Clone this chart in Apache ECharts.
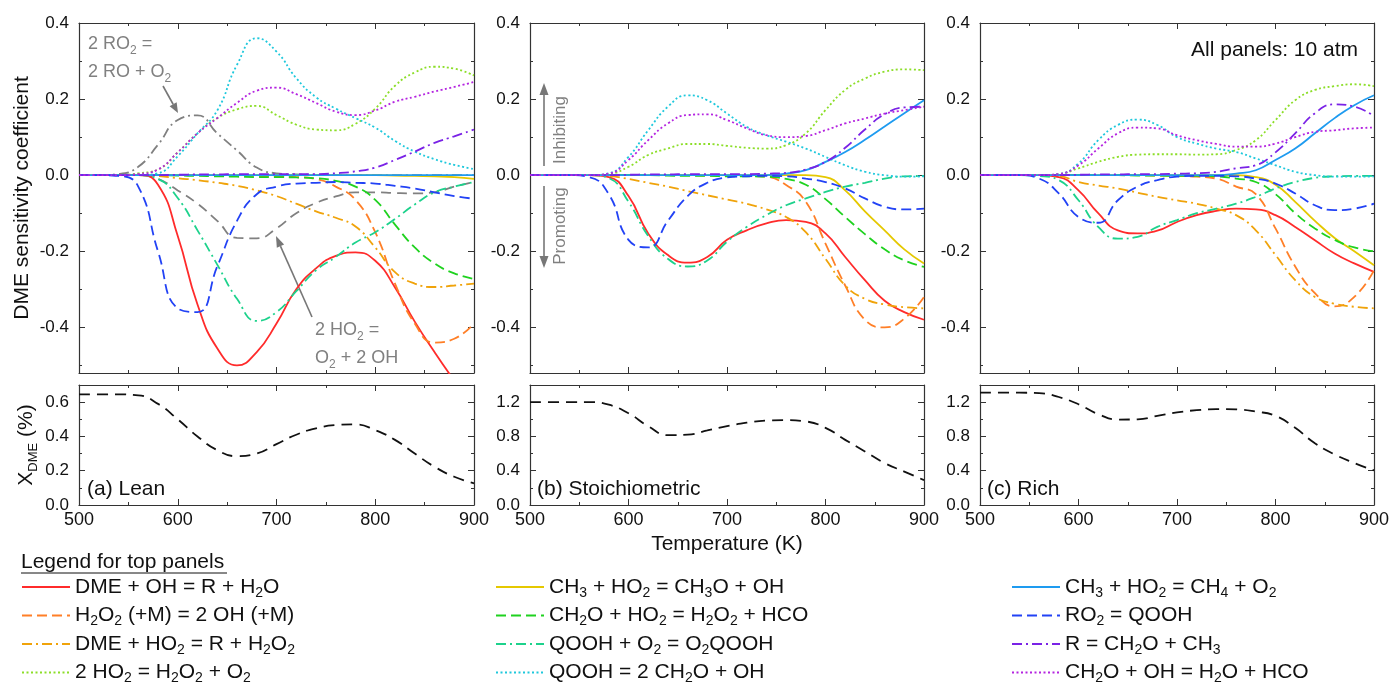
<!DOCTYPE html>
<html>
<head>
<meta charset="utf-8">
<title>DME sensitivity</title>
<script src="https://cdn.jsdelivr.net/npm/echarts@6/dist/echarts.min.js"></script>
<style>
    html, body { margin: 0; padding: 0; background: #fff; }
    #main { width: 1393px; height: 694px; }
</style>
</head>
<body>
<div id="main"></div>
<script>
var FONT = "'Liberation Sans', Arial, sans-serif";

// temperatures (K), shared by every curve
var temps = [500, 520, 540, 560, 580, 600, 620, 640, 660, 680, 700, 720, 740, 760, 780, 800, 820, 840, 860, 880, 900];
var topTicks = [-0.4, -0.2, 0, 0.2, 0.4];
var topMinorTicks = [-0.5, -0.3, -0.1, 0.1, 0.3];
var leanXTicks = [0, 0.2, 0.4, 0.6];
var leanXMinor = [0.1, 0.3, 0.5];
var otherXTicks = [0, 0.4, 0.8, 1.2];
var otherXMinor = [0.2, 0.6, 1.0];

// (a) lean
var leanDmeOH   = [0, 0, 0, 0, -0.025, -0.16, -0.34, -0.455, -0.5, -0.465, -0.39, -0.3, -0.245, -0.212, -0.203, -0.225, -0.295, -0.385, -0.465, -0.54, -0.61];
var leanH2O2    = [0, 0, 0, 0, 0, 0, 0, 0, -0.001, -0.002, -0.003, -0.005, -0.01, -0.03, -0.065, -0.15, -0.285, -0.39, -0.44, -0.43, -0.39];
var leanDmeHO2  = [0, 0, 0, 0, -0.002, -0.008, -0.013, -0.02, -0.028, -0.04, -0.055, -0.075, -0.095, -0.112, -0.135, -0.19, -0.255, -0.285, -0.294, -0.29, -0.285];
var leanHO2HO2  = [0, 0, 0, 0.005, 0.015, 0.06, 0.11, 0.15, 0.173, 0.182, 0.158, 0.133, 0.12, 0.118, 0.135, 0.175, 0.235, 0.27, 0.285, 0.28, 0.262];
var leanCH3O    = [0, 0, 0, 0, 0, 0, 0, 0, 0, 0, 0, 0, 0, 0, 0, 0, -0.001, -0.002, -0.003, -0.005, -0.01];
var leanCH2OHO2 = [0, 0, 0, 0, 0, -0.001, -0.002, -0.003, -0.004, -0.005, -0.005, -0.006, -0.008, -0.015, -0.03, -0.065, -0.13, -0.19, -0.232, -0.258, -0.273];
var leanQOOHO2  = [0, 0, 0, 0, -0.01, -0.06, -0.145, -0.235, -0.325, -0.383, -0.36, -0.305, -0.25, -0.215, -0.177, -0.15, -0.115, -0.077, -0.045, -0.03, -0.018];
var leanQOOH    = [0, 0, 0, 0, 0.005, 0.05, 0.11, 0.17, 0.29, 0.36, 0.325, 0.255, 0.205, 0.175, 0.15, 0.125, 0.09, 0.062, 0.042, 0.027, 0.016];
var leanCH4     = [0, 0, 0, 0, 0, 0, 0, 0, 0, 0, 0, 0, 0, 0, 0, 0, 0, 0, 0, 0, 0];
var leanRO2     = [0, 0, -0.002, -0.03, -0.2, -0.35, -0.36, -0.24, -0.12, -0.05, -0.03, -0.022, -0.02, -0.018, -0.02, -0.022, -0.028, -0.035, -0.045, -0.055, -0.062];
var leanR       = [0, 0, 0, 0, 0, 0.001, 0.002, 0.002, 0.003, 0.003, 0.003, 0.003, 0.003, 0.005, 0.01, 0.02, 0.04, 0.062, 0.085, 0.102, 0.12];
var leanCH2OOH  = [0, 0, 0, 0.003, 0.015, 0.06, 0.11, 0.15, 0.19, 0.222, 0.23, 0.213, 0.19, 0.167, 0.158, 0.17, 0.193, 0.206, 0.22, 0.232, 0.245];
var leanRO2RO   = [0, 0, 0.003, 0.022, 0.08, 0.145, 0.157, 0.11, 0.065, 0.02, 0.005, 0.002, 0.001, 0, 0, 0, 0, 0, 0, 0, 0];
var leanHO2OH   = [0, 0, 0, 0, -0.01, -0.04, -0.075, -0.12, -0.165, -0.166, -0.14, -0.1, -0.073, -0.056, -0.045, -0.045, -0.047, -0.048, -0.045, -0.03, -0.018];

// (b) stoichiometric
var stoiDmeOH   = [0, 0, 0, 0, -0.005, -0.055, -0.153, -0.21, -0.23, -0.215, -0.17, -0.145, -0.127, -0.118, -0.123, -0.153, -0.215, -0.276, -0.33, -0.36, -0.38];
var stoiH2O2    = [0, 0, 0, 0, 0, 0, 0, 0, 0, -0.001, -0.001, -0.002, -0.004, -0.026, -0.07, -0.18, -0.29, -0.38, -0.4, -0.377, -0.32];
var stoiDmeHO2  = [0, 0, 0, 0, -0.002, -0.01, -0.02, -0.03, -0.042, -0.053, -0.064, -0.075, -0.09, -0.11, -0.15, -0.22, -0.29, -0.325, -0.34, -0.347, -0.35];
var stoiHO2HO2  = [0, 0, 0, 0, 0.003, 0.022, 0.053, 0.07, 0.082, 0.082, 0.077, 0.072, 0.07, 0.079, 0.11, 0.171, 0.224, 0.254, 0.272, 0.278, 0.276];
var stoiCH3O    = [0, 0, 0, 0, 0, 0, 0, 0, 0, 0, 0, 0, 0, 0, 0, -0.005, -0.04, -0.095, -0.145, -0.195, -0.232];
var stoiCH2OHO2 = [0, 0, 0, 0, 0, 0, 0, -0.001, -0.002, -0.002, -0.003, -0.003, -0.004, -0.01, -0.025, -0.063, -0.11, -0.155, -0.195, -0.224, -0.241];
var stoiQOOHO2  = [0, 0, 0, 0, -0.008, -0.07, -0.16, -0.22, -0.24, -0.224, -0.175, -0.136, -0.105, -0.079, -0.061, -0.044, -0.03, -0.02, -0.009, -0.003, -0.002];
var stoiQOOH    = [0, 0, 0, 0, 0.005, 0.048, 0.118, 0.18, 0.21, 0.197, 0.162, 0.127, 0.105, 0.088, 0.07, 0.048, 0.026, 0.009, 0, -0.004, -0.003];
var stoiCH4     = [0, 0, 0, 0, 0, 0, 0, 0, 0, 0, 0, 0, 0, 0.004, 0.013, 0.035, 0.061, 0.093, 0.128, 0.163, 0.197];
var stoiRO2     = [0, 0, 0, -0.005, -0.05, -0.17, -0.19, -0.12, -0.055, -0.02, -0.006, -0.003, -0.002, -0.003, -0.009, -0.018, -0.035, -0.061, -0.083, -0.09, -0.088];
var stoiR       = [0, 0, 0, 0, 0, 0.001, 0.002, 0.002, 0.003, 0.003, 0.003, 0.003, 0.004, 0.006, 0.015, 0.035, 0.072, 0.12, 0.16, 0.178, 0.18];
var stoiCH2OOH  = [0, 0, 0, 0, 0.004, 0.04, 0.092, 0.136, 0.158, 0.16, 0.145, 0.123, 0.105, 0.1, 0.103, 0.118, 0.136, 0.149, 0.162, 0.171, 0.18];

// (c) rich
var richDmeOH   = [0, 0, 0, 0, -0.005, -0.04, -0.1, -0.145, -0.153, -0.146, -0.123, -0.105, -0.094, -0.088, -0.09, -0.105, -0.136, -0.171, -0.206, -0.232, -0.254];
var richH2O2    = [0, 0, 0, 0, 0, 0, 0, 0, 0, -0.001, -0.002, -0.004, -0.009, -0.03, -0.05, -0.14, -0.24, -0.31, -0.345, -0.32, -0.25];
var richDmeHO2  = [0, 0, 0, 0, -0.002, -0.018, -0.027, -0.035, -0.046, -0.057, -0.066, -0.075, -0.088, -0.105, -0.145, -0.21, -0.276, -0.32, -0.338, -0.346, -0.35];
var richHO2HO2  = [0, 0, 0, 0, 0.003, 0.018, 0.035, 0.048, 0.054, 0.055, 0.055, 0.054, 0.055, 0.066, 0.092, 0.145, 0.197, 0.224, 0.234, 0.239, 0.234];
var richCH3O    = [0, 0, 0, 0, 0, 0, 0, 0, 0, 0, 0, 0, 0, 0, -0.005, -0.025, -0.07, -0.12, -0.165, -0.2, -0.237];
var richCH2OHO2 = [0, 0, 0, 0, 0, 0, 0, 0, -0.001, -0.001, -0.002, -0.002, -0.003, -0.009, -0.018, -0.05, -0.1, -0.14, -0.17, -0.19, -0.2];
var richQOOHO2  = [0, 0, 0, -0.002, -0.013, -0.066, -0.136, -0.167, -0.162, -0.136, -0.118, -0.1, -0.088, -0.075, -0.057, -0.035, -0.018, -0.007, -0.003, -0.002, -0.002];
var richQOOH    = [0, 0, 0, 0, 0.003, 0.031, 0.092, 0.132, 0.146, 0.132, 0.1, 0.083, 0.07, 0.061, 0.044, 0.026, 0.009, 0, -0.004, -0.004, -0.003];
var richCH4     = [0, 0, 0, 0, 0, 0, 0, 0, 0, 0, 0, 0, 0, 0.004, 0.013, 0.04, 0.07, 0.11, 0.15, 0.184, 0.21];
var richRO2     = [0, 0, 0, -0.009, -0.048, -0.11, -0.125, -0.066, -0.03, -0.013, -0.004, -0.002, -0.002, -0.003, -0.009, -0.022, -0.048, -0.079, -0.092, -0.088, -0.075];
var richR       = [0, 0, 0, 0, 0, 0.001, 0.002, 0.002, 0.003, 0.003, 0.004, 0.005, 0.009, 0.018, 0.026, 0.06, 0.11, 0.163, 0.186, 0.18, 0.155];
var richCH2OOH  = [0, 0, 0, 0, 0.003, 0.026, 0.07, 0.11, 0.125, 0.123, 0.105, 0.092, 0.082, 0.075, 0.075, 0.083, 0.1, 0.114, 0.118, 0.123, 0.125];

// DME mole fraction (%) for the lower panels
var xLean = [0.645, 0.645, 0.645, 0.64, 0.59, 0.5, 0.4, 0.32, 0.285, 0.3, 0.355, 0.41, 0.447, 0.466, 0.47, 0.437, 0.38, 0.3, 0.223, 0.165, 0.126];
var xStoi = [1.2, 1.2, 1.2, 1.2, 1.17, 1.07, 0.92, 0.815, 0.82, 0.87, 0.92, 0.96, 0.985, 0.99, 0.975, 0.9, 0.76, 0.625, 0.49, 0.39, 0.29];
var xRich = [1.31, 1.31, 1.31, 1.305, 1.26, 1.175, 1.06, 0.997, 1.0, 1.04, 1.08, 1.106, 1.118, 1.115, 1.09, 1.04, 0.9, 0.72, 0.59, 0.49, 0.403];

var DASH = [10, 5], DASHDOT = [10, 4, 2, 4], DOT = [2, 2.5];

var reactions = [
    {name: 'DME + OH = R + H2O',       label: 'DME + OH = R + H{s|2}O',                     color: '#ff2b2b', type: 'solid', data: [leanDmeOH, stoiDmeOH, richDmeOH]},
    {name: 'H2O2 (+M) = 2 OH (+M)',    label: 'H{s|2}O{s|2} (+M) = 2 OH (+M)',              color: '#ff7f27', type: DASH,    data: [leanH2O2, stoiH2O2, richH2O2]},
    {name: 'DME + HO2 = R + H2O2',     label: 'DME + HO{s|2} = R + H{s|2}O{s|2}',           color: '#f0a30a', type: DASHDOT, data: [leanDmeHO2, stoiDmeHO2, richDmeHO2]},
    {name: '2 HO2 = H2O2 + O2',        label: '2 HO{s|2} = H{s|2}O{s|2} + O{s|2}',          color: '#8cde28', type: DOT,     data: [leanHO2HO2, stoiHO2HO2, richHO2HO2]},
    {name: 'CH3 + HO2 = CH3O + OH',    label: 'CH{s|3} + HO{s|2} = CH{s|3}O + OH',          color: '#e5c800', type: 'solid', data: [leanCH3O, stoiCH3O, richCH3O]},
    {name: 'CH2O + HO2 = H2O2 + HCO',  label: 'CH{s|2}O + HO{s|2} = H{s|2}O{s|2} + HCO',    color: '#1fd21f', type: DASH,    data: [leanCH2OHO2, stoiCH2OHO2, richCH2OHO2]},
    {name: 'QOOH + O2 = O2QOOH',       label: 'QOOH + O{s|2} = O{s|2}QOOH',                 color: '#1dd28c', type: DASHDOT, data: [leanQOOHO2, stoiQOOHO2, richQOOHO2]},
    {name: 'QOOH = 2 CH2O + OH',       label: 'QOOH = 2 CH{s|2}O + OH',                     color: '#1ec8dc', type: DOT,     data: [leanQOOH, stoiQOOH, richQOOH]},
    {name: 'CH3 + HO2 = CH4 + O2',     label: 'CH{s|3} + HO{s|2} = CH{s|4} + O{s|2}',       color: '#1e9bf0', type: 'solid', data: [leanCH4, stoiCH4, richCH4]},
    {name: 'RO2 = QOOH',               label: 'RO{s|2} = QOOH',                             color: '#2242f5', type: DASH,    data: [leanRO2, stoiRO2, richRO2]},
    {name: 'R = CH2O + CH3',           label: 'R = CH{s|2}O + CH{s|3}',                     color: '#7a22e6', type: DASHDOT, data: [leanR, stoiR, richR]},
    {name: 'CH2O + OH = H2O + HCO',    label: 'CH{s|2}O + OH = H{s|2}O + HCO',              color: '#b424e0', type: DOT,     data: [leanCH2OOH, stoiCH2OOH, richCH2OOH]}
];

var legendLabels = {};
reactions.forEach(function (r) { legendLabels[r.name] = r.label; });

function subStyle(size, color) {
    return {s: {fontSize: size, lineHeight: size, verticalAlign: 'bottom', fontFamily: FONT, color: color}};
}

var lefts = [79, 530, 980], widths = [395, 394, 394];
var grids = [], xAxes = [], yAxes = [], series = [];

function pairXY(arr) {
    return temps.map(function (t, i) { return [t, arr[i]]; });
}

function addX(gi, showLabel, name) {
    var idx = xAxes.length;
    ['bottom', 'top'].forEach(function (pos) {
        xAxes.push({
            type: 'value', gridIndex: gi, position: pos, min: 500, max: 900, interval: 100,
            name: pos === 'bottom' ? name : '', nameLocation: 'middle', nameGap: 29,
            nameTextStyle: {fontSize: 21, color: '#111', fontFamily: FONT},
            axisLine: {show: true, onZero: false, lineStyle: {color: '#333', width: 1.2}},
            axisTick: {inside: true, length: 6, lineStyle: {color: '#333'}},
            minorTick: {show: true, splitNumber: 2, length: 3, lineStyle: {color: '#333'}},
            splitLine: {show: false},
            axisLabel: {show: showLabel && pos === 'bottom', fontSize: 18, color: '#111', fontFamily: FONT, margin: 6}
        });
    });
    return idx;
}

function addY(gi, min, max, ticks, minor, name, nameGap) {
    var idx = yAxes.length;
    ['left', 'right'].forEach(function (pos) {
        yAxes.push({
            type: 'value', gridIndex: gi, position: pos, min: min, max: max,
            name: pos === 'left' ? name : '', nameLocation: 'middle', nameGap: nameGap,
            nameTextStyle: {fontSize: 21, color: '#111', fontFamily: FONT, lineHeight: 28, rich: subStyle(13, '#111')},
            axisLine: {show: true, onZero: false, lineStyle: {color: '#333', width: 1.2}},
            axisTick: {inside: true, length: 6, customValues: ticks, lineStyle: {color: '#333'}},
            splitLine: {show: false},
            axisLabel: {show: pos === 'left', customValues: ticks, fontSize: 17, color: '#111', fontFamily: FONT, margin: 10,
                formatter: function (v) { return v.toFixed(1); }}
        });
        // short minor ticks
        yAxes.push({
            type: 'value', gridIndex: gi, position: pos, min: min, max: max,
            axisLine: {show: false},
            axisTick: {inside: true, length: 3, customValues: minor, lineStyle: {color: '#333'}},
            axisLabel: {show: false},
            splitLine: {show: false}
        });
    });
    return idx;
}

var bottomData = [xLean, xStoi, xRich];

for (var p = 0; p < 3; p++) {
    grids.push({left: lefts[p], width: widths[p], top: 23, height: 350});
}
for (var p = 0; p < 3; p++) {
    grids.push({left: lefts[p], width: widths[p], top: 385, height: 120});
}

for (var p = 0; p < 3; p++) {
    var xi = addX(p, false, '');
    var yi = addY(p, -0.52, 0.4, topTicks, topMinorTicks, p === 0 ? 'DME sensitivity coefficient' : '', 34);
    if (p === 0) {
        series.push({type: 'line', name: '2 RO2 = 2 RO + O2', xAxisIndex: xi, yAxisIndex: yi, data: pairXY(leanRO2RO),
            smooth: true, symbol: 'none', z: 1, lineStyle: {color: '#808080', width: 1.8, type: DASHDOT}});
        series.push({type: 'line', name: '2 HO2 = O2 + 2 OH', xAxisIndex: xi, yAxisIndex: yi, data: pairXY(leanHO2OH),
            smooth: true, symbol: 'none', z: 1, lineStyle: {color: '#808080', width: 1.8, type: [10, 6]}});
    }
    reactions.forEach(function (r) {
        series.push({
            type: 'line', name: r.name, xAxisIndex: xi, yAxisIndex: yi,
            data: pairXY(r.data[p]), smooth: true, symbol: 'none', z: 2,
            itemStyle: {color: r.color},
            lineStyle: {color: r.color, width: 1.8, type: r.type}
        });
    });
}

for (var p = 0; p < 3; p++) {
    var xb = addX(3 + p, true, p === 1 ? 'Temperature (K)' : '');
    var yb = p === 0
        ? addY(3, 0, 0.7, leanXTicks, leanXMinor, 'X{s|DME} (%)', 39)
        : addY(3 + p, 0, 1.4, otherXTicks, otherXMinor, '', 40);
    series.push({
        type: 'line', name: 'X_DME', xAxisIndex: xb, yAxisIndex: yb, data: pairXY(bottomData[p]),
        smooth: true, symbol: 'none', lineStyle: {color: '#111', width: 1.8, type: [11, 7]}
    });
}

function legendColumn(left, names) {
    return {
        orient: 'vertical', left: left, top: 574, padding: 0, itemWidth: 48, itemHeight: 14, itemGap: 2.5,
        selectedMode: false, data: names,
        itemStyle: {opacity: 0},
        formatter: function (name) { return legendLabels[name]; },
        textStyle: {fontSize: 21, color: '#111', fontFamily: FONT, lineHeight: 26, rich: subStyle(14, '#111')}
    };
}

function arrow(x1, y1, x2, y2, len, half) {
    var a = Math.atan2(y2 - y1, x2 - x1);
    var c = Math.cos(a), s = Math.sin(a);
    var bx = x2 - len * c, by = y2 - len * s;
    return [
        {type: 'line', shape: {x1: x1, y1: y1, x2: bx, y2: by}, style: {stroke: '#777', lineWidth: 1.6}},
        {type: 'polygon', shape: {points: [[x2, y2], [bx + half * s, by - half * c], [bx - half * s, by + half * c]]}, style: {fill: '#777'}}
    ];
}

function label(x, y, text, color, size, align, rot) {
    return {
        type: 'text', x: x, y: y, rotation: rot || 0,
        style: {text: text, fill: color, fontSize: size, fontFamily: FONT, align: align || 'left', verticalAlign: 'middle',
            lineHeight: Math.round(size * 1.45), rich: subStyle(Math.round(size * 0.68), color)}
    };
}

var graphics = [
    label(21, 562, 'Legend for top panels', '#111', 21),
    {type: 'line', shape: {x1: 21, y1: 573, x2: 227, y2: 573}, style: {stroke: '#111', lineWidth: 1}},
    label(1358, 50, 'All panels: 10 atm', '#111', 21, 'right'),
    label(87, 489, '(a) Lean', '#111', 21),
    label(537, 489, '(b) Stoichiometric', '#111', 21),
    label(987, 489, '(c) Rich', '#111', 21),
    label(88, 44, '2 RO{s|2} =', '#808080', 18),
    label(88, 72, '2 RO + O{s|2}', '#808080', 18),
    label(315, 330, '2 HO{s|2} =', '#808080', 18),
    label(315, 358, 'O{s|2} + 2 OH', '#808080', 18),
    label(560, 130, 'Inhibiting', '#808080', 17, 'center', Math.PI / 2),
    label(560, 226, 'Promoting', '#808080', 17, 'center', Math.PI / 2)
].concat(arrow(163, 86, 178, 113, 10, 4))
 .concat(arrow(312, 317, 276, 236, 11, 4))
 .concat(arrow(544, 166, 544, 83, 12, 4.5))
 .concat(arrow(544, 186, 544, 268, 12, 4.5));

var myChart = echarts.init(document.getElementById('main'));

var option = {
    animation: false,
    backgroundColor: '#fff',
    grid: grids,
    xAxis: xAxes,
    yAxis: yAxes,
    legend: [
        legendColumn(21, reactions.slice(0, 4).map(function (r) { return r.name; })),
        legendColumn(495, reactions.slice(4, 8).map(function (r) { return r.name; })),
        legendColumn(1011, reactions.slice(8, 12).map(function (r) { return r.name; }))
    ],
    graphic: graphics,
    series: series
};
myChart.setOption(option);
</script>
</body>
</html>
